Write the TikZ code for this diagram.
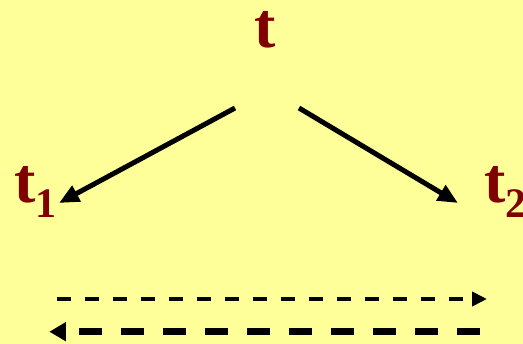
\documentclass[tikz,border=0pt]{standalone}
\usepackage{fontspec}
\setmainfont{Liberation Serif}
\usetikzlibrary{arrows.meta}
\definecolor{bgyellow}{RGB}{255,255,153}
\definecolor{darkred}{RGB}{128,0,0}
\newcommand{\subidx}[1]{\raisebox{-15pt}{\fontsize{42}{44}\selectfont #1}}
\tikzset{
  lbl/.style={inner sep=0pt, anchor=base west, text=darkred, font=\fontsize{64}{66}\selectfont\bfseries},
  solidarrow/.style={line width=5pt, -{Triangle[length=20pt,width=17pt]}},
  fwddash/.style={line width=4.3pt, dash pattern=on 14pt off 14pt, -{Triangle[length=15pt,width=14pt]}},
  backdash/.style={line width=7pt, dash pattern=on 23pt off 19pt, -{Triangle[length=16.5pt,width=18pt]}}
}
\begin{document}
\begin{tikzpicture}[x=1pt,y=-1pt]
  \fill[bgyellow] (0,0) rectangle (523,344);
  \useasboundingbox (0,0) rectangle (523,344);
  \node[lbl] (t) at (254,48) {t};
  \node[lbl] (t1) at (14,203) {t\subidx{1}};
  \node[lbl] (t2) at (484,203) {t\subidx{2}};
  \coordinate (s1) at (235,108);
  \coordinate (e1) at (59,203);
  \coordinate (s2) at (299,108);
  \coordinate (e2) at (458,203);
  \draw[solidarrow] (s1) -- (e1);
  \draw[solidarrow] (s2) -- (e2);
  \coordinate (fa) at (56.7,299);
  \coordinate (fb) at (487,299);
  \coordinate (ba) at (480,331.7);
  \coordinate (bb) at (49.3,331.7);
  \draw[fwddash] (fa) -- (fb);
  \draw[backdash] (ba) -- (bb);
\end{tikzpicture}
\end{document}
